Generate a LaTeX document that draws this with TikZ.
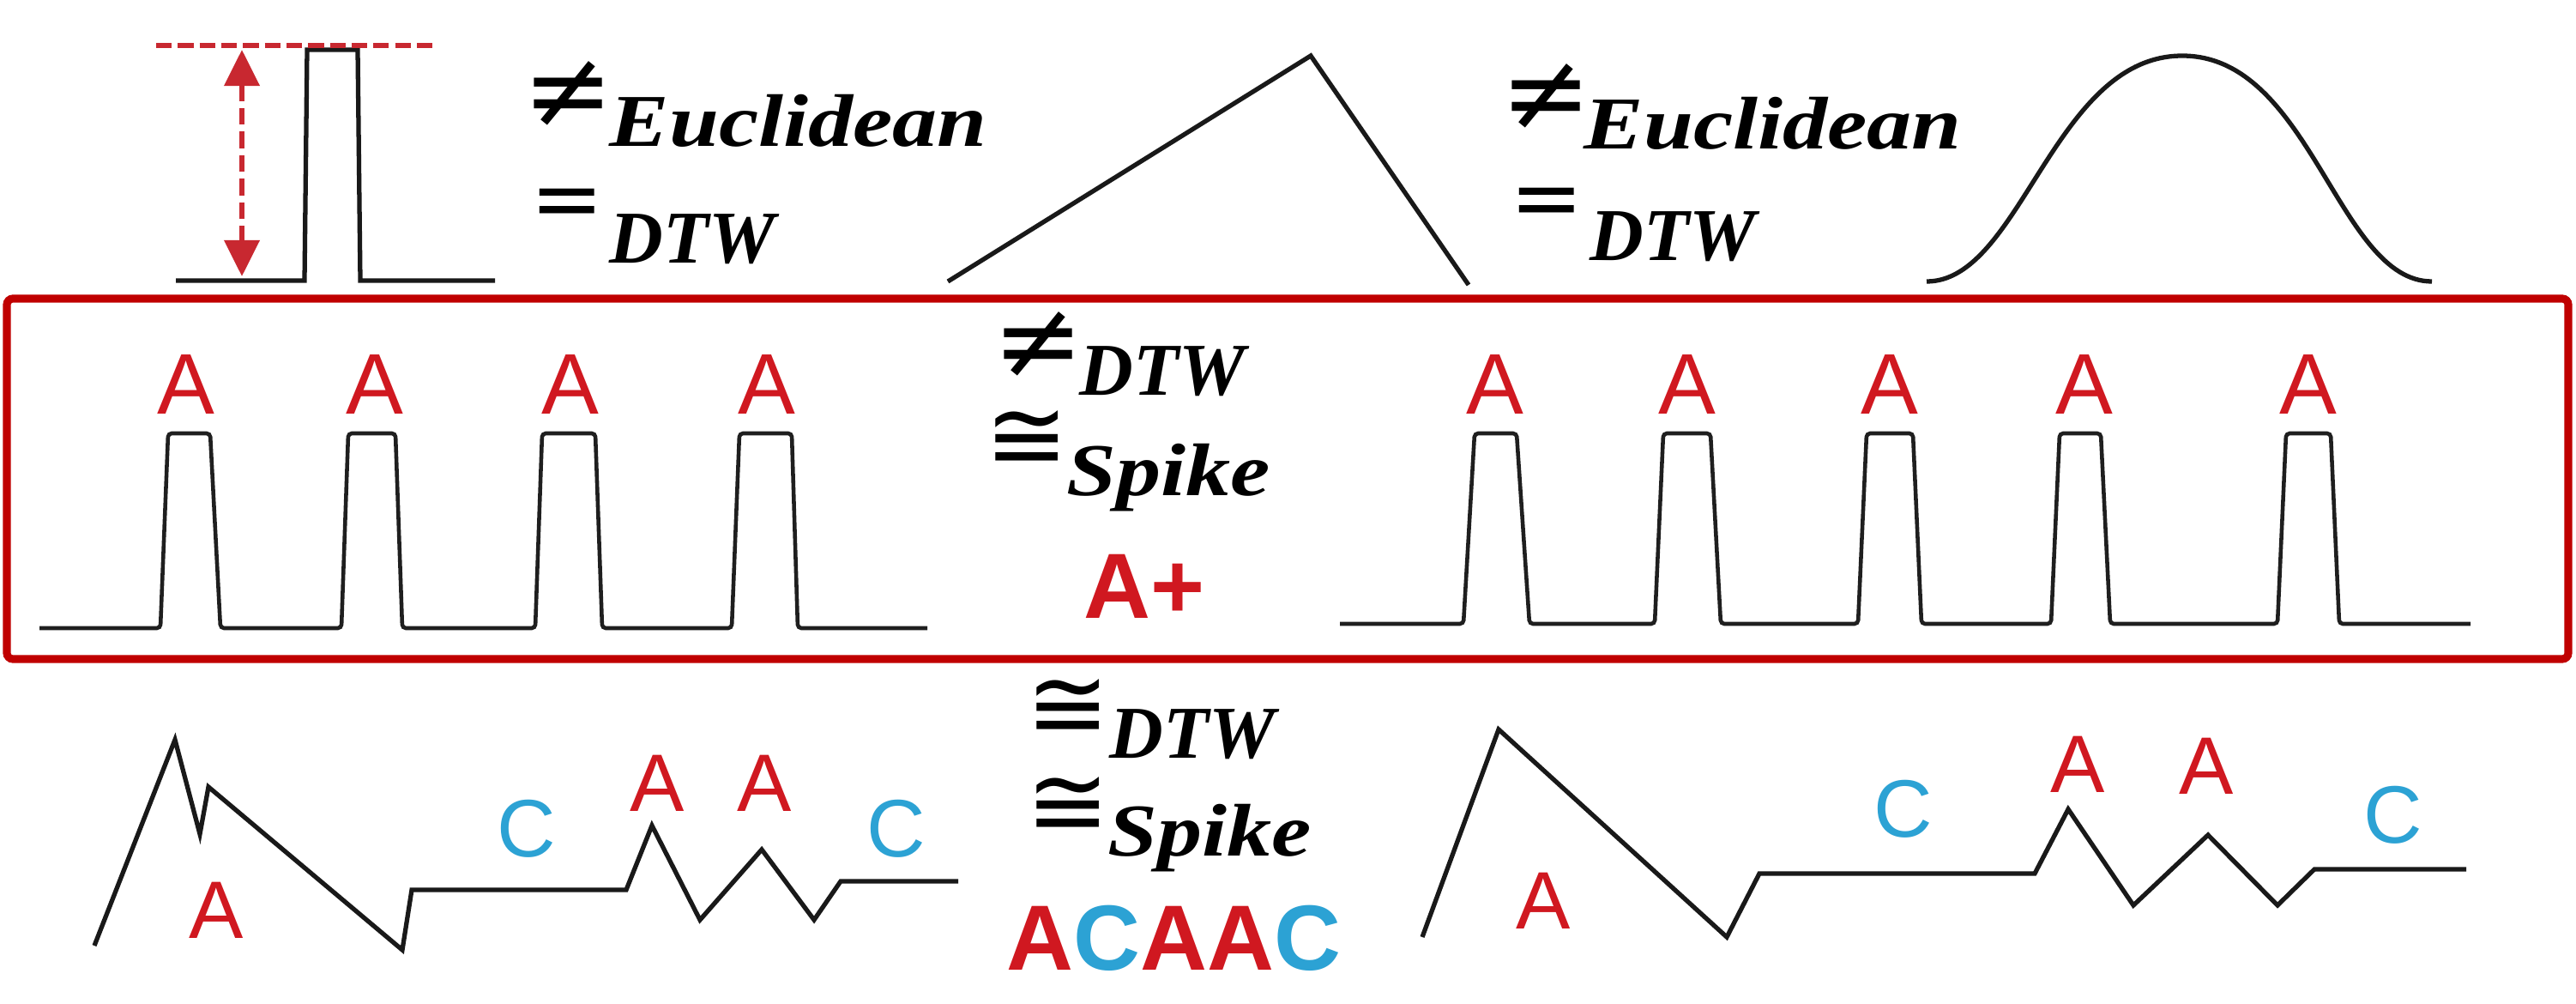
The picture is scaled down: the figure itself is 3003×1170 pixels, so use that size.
\documentclass[tikz,border=0pt]{standalone}
\usepackage{fontspec}
\setmainfont{Liberation Sans}
\newfontfamily\wordfont{Liberation Serif}
\newfontfamily\wordfontL[FakeStretch=1.2]{Liberation Serif}
\newfontfamily\symfont{DejaVu Sans}
\usetikzlibrary{arrows.meta}
\definecolor{labred}{RGB}{208,24,32}
\definecolor{labblue}{RGB}{44,162,212}
\definecolor{boxred}{RGB}{192,0,0}
\definecolor{dashred}{RGB}{200,40,48}
\tikzset{
  sig/.style={line width=1.5pt, draw=black!90},
  pulses/.style={line width=1.3pt, draw=black!88, rounded corners=1.2pt},
  word/.style={font=\wordfont\bfseries\itshape\fontsize{24.7}{26}\selectfont, anchor=base west, inner sep=0pt},
  wordL/.style={font=\wordfontL\bfseries\itshape\fontsize{24.7}{26}\selectfont, anchor=base west, inner sep=0pt},
  rel/.style={font=\symfont\fontsize{29}{30}\selectfont, anchor=center, inner sep=0pt},
  relne/.style={font=\symfont\fontsize{36}{38}\selectfont, anchor=center, inner sep=0pt},
  relcong/.style={font=\symfont\fontsize{33}{35}\selectfont, anchor=center, inner sep=0pt},
  alab/.style={font=\fontsize{28.5}{30}\selectfont, text=labred, anchor=base, inner sep=0pt},
  blab/.style={font=\fontsize{27}{29}\selectfont, anchor=base, inner sep=0pt},
  big/.style={font=\bfseries\fontsize{30.7}{32}\selectfont, anchor=base west, inner sep=0pt}
}
\begin{document}
\begin{tikzpicture}[x=0.01cm, y=-0.01cm]
\useasboundingbox (0,0) rectangle (3003,1170);
\fill[white] (0,0) rectangle (3003,1170);

% ---------- top row ----------
\draw[sig] (205,327) -- (355,327) -- (358,58) -- (417,58) -- (420,327) -- (577,327);
\draw[dashred, line width=1.5pt, dash pattern=on 5.2pt off 2pt] (182,53) -- (508,53);
\draw[dashred, line width=1.8pt, dash pattern=on 5.5pt off 2.3pt,
  {Triangle[width=11.5pt,length=12pt]}-{Triangle[width=11.5pt,length=12pt]}] (282,58) -- (282,322);

\node[relne] (r1) at (663,110) {≠};
\node[wordL] (w1) at (710,171) {Euclidean};
\node[rel] (r2) at (661,243) {=};
\node[word] (w2) at (710,306) {DTW};

\draw[sig] (1105,328) -- (1528,65) -- (1712,332);

\node[relne] (r3) at (1803,113) {≠};
\node[wordL] (w3) at (1846,174) {Euclidean};
\node[rel] (r4) at (1803,242) {=};
\node[word] (w4) at (1853,303) {DTW};

\draw[sig] (2246,328) .. controls (2356,328) and (2394,65) .. (2544,65)
  .. controls (2694,65) and (2725,328) .. (2835,328);

% ---------- middle row (boxed) ----------
\draw[boxred, line width=2.6pt, rounded corners=2pt] (8,348) rectangle (2994,768);

\draw[pulses] (46,732) -- (187,732) -- (196,505) -- (245,505) -- (257,732)
  -- (398,732) -- (406,505) -- (461,505) -- (469,732)
  -- (624,732) -- (632,505) -- (694,505) -- (702,732)
  -- (853,732) -- (862,505) -- (923,505) -- (930,732) -- (1081,732);
\node[alab] (m1) at (217,482) {A};
\node[alab] (m2) at (437,482) {A};
\node[alab] (m3) at (665,482) {A};
\node[alab] (m4) at (894,482) {A};

\node[relne] (r5) at (1211,402) {≠};
\node[word] (w5) at (1258,460) {DTW};
\node[relcong] (r6) at (1197,513) {≅};
\node[wordL] (w6) at (1243,577) {Spike};
\node[big, text=labred] (ap) at (1263,720) {A+};

\draw[pulses] (1562,727) -- (1706,727) -- (1719,505) -- (1768,505) -- (1783,727)
  -- (1929,727) -- (1939,505) -- (1994,505) -- (2006,727)
  -- (2166,727) -- (2176,505) -- (2230,505) -- (2240,727)
  -- (2391,727) -- (2401,505) -- (2449,505) -- (2460,727)
  -- (2655,727) -- (2665,505) -- (2717,505) -- (2727,727) -- (2880,727);
\node[alab] (n1) at (1743,482) {A};
\node[alab] (n2) at (1967,482) {A};
\node[alab] (n3) at (2203,482) {A};
\node[alab] (n4) at (2430,482) {A};
\node[alab] (n5) at (2691,482) {A};

% ---------- bottom row ----------
\draw[sig] (110,1102) -- (204,862) -- (233,972) -- (243,917) -- (469,1107) -- (480,1037)
  -- (730,1037) -- (760,962) -- (816,1072) -- (888,990) -- (949,1072) -- (980,1027) -- (1117,1027);
\node[blab, text=labred] (b1) at (252,1093) {A};
\node[blab, text=labblue] (b2) at (614,998) {C};
\node[blab, text=labred] (b3) at (766,945) {A};
\node[blab, text=labred] (b4) at (891,945) {A};
\node[blab, text=labblue] (b5) at (1045,998) {C};

\node[relcong] (r7) at (1245,826) {≅};
\node[word] (w7) at (1293,883) {DTW};
\node[relcong] (r8) at (1245,940) {≅};
\node[wordL] (w8) at (1291,997) {Spike};
\node[big] (acaac) at (1173,1130) {\textcolor{labred}{A}\textcolor{labblue}{C}\textcolor{labred}{AA}\textcolor{labblue}{C}};

\draw[sig] (1658,1092) -- (1747,850) -- (2013,1092) -- (2051,1018) -- (2372,1018) -- (2411,943)
  -- (2487,1055) -- (2574,973) -- (2655,1055) -- (2698,1013) -- (2875,1013);
\node[blab, text=labred] (c1) at (1799,1082) {A};
\node[blab, text=labblue] (c2) at (2219,975) {C};
\node[blab, text=labred] (c3) at (2422,923) {A};
\node[blab, text=labred] (c4) at (2572,925) {A};
\node[blab, text=labblue] (c5) at (2790,982) {C};
\end{tikzpicture}
\end{document}
